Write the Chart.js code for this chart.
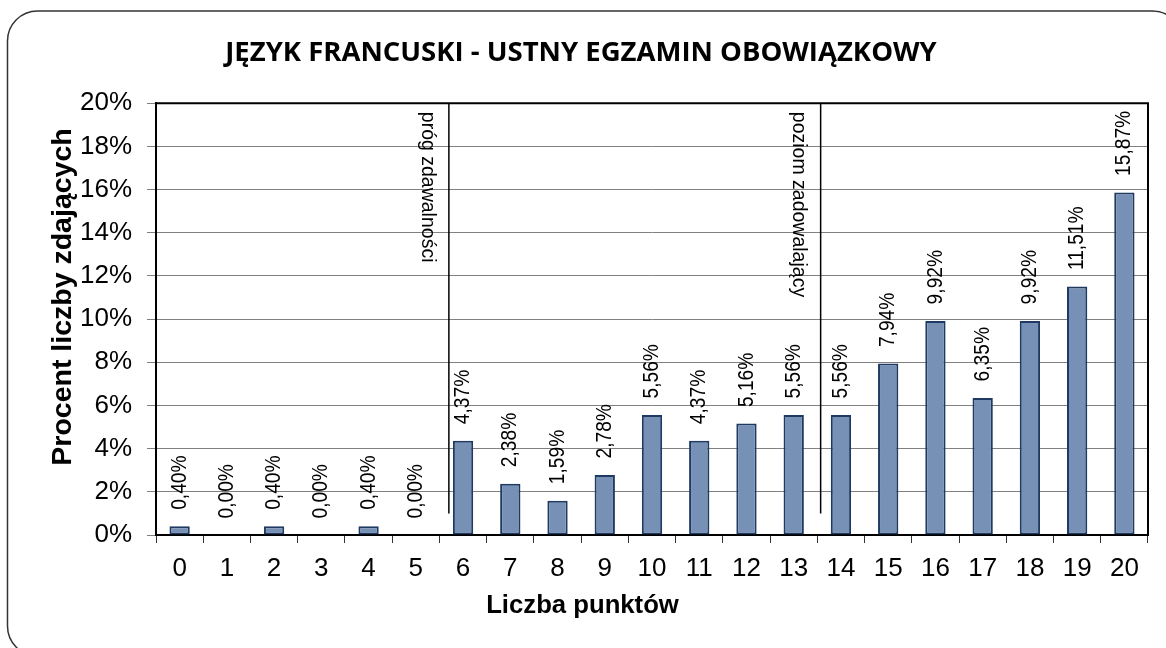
<!DOCTYPE html>
<html>
<head>
<meta charset="utf-8">
<script src="https://cdn.jsdelivr.net/npm/chart.js@4/dist/chart.umd.min.js"></script>
<style>
  html, body { margin: 0; padding: 0; background: #fff; }
  #box { width: 1166px; height: 648px; }
</style>
</head>
<body>
<div id="box"><canvas id="chart"></canvas></div>
<script>
// points 0..20 and percent of candidates
const points = ['0','1','2','3','4','5','6','7','8','9','10','11','12','13','14','15','16','17','18','19','20'];
const percents = [0.40, 0.00, 0.40, 0.00, 0.40, 0.00, 4.37, 2.38, 1.59, 2.78, 5.56, 4.37, 5.16, 5.56, 5.56, 7.94, 9.92, 6.35, 9.92, 11.51, 15.87];

// threshold markers (position on the category axis, label)
const markerPos = [5.7, 13.57];
const markerText = ['próg zdawalności', 'poziom zadowalający'];
const markerFrom = 1; // lines stop at 1%

const titleText = 'JĘZYK FRANCUSKI - USTNY EGZAMIN OBOWIĄZKOWY';
const xTitle = 'Liczba punktów';
const yTitle = 'Procent liczby zdających';

const fam = '"Liberation Sans", Arial, sans-serif';

const fmt = v => v.toFixed(2).replace('.', ',') + '%';

const extras = {
  id: 'extras',
  beforeDraw(chart) {
    const ctx = chart.ctx;
    ctx.save();
    ctx.fillStyle = '#fff';
    ctx.fillRect(0, 0, chart.width, chart.height);
    ctx.strokeStyle = '#333';
    ctx.lineWidth = 1.5;
    ctx.beginPath();
    ctx.roundRect(7.5, 11, 1175, 645, 30);
    ctx.stroke();

    // titles
    ctx.fillStyle = '#000';
    ctx.textAlign = 'center';
    ctx.textBaseline = 'alphabetic';
    ctx.font = 'bold 27.5px "Open Sans", sans-serif';
    ctx.fillText(titleText, 581, 61);

    ctx.textBaseline = 'middle';
    ctx.font = 'bold 25.7px ' + fam;
    ctx.fillText(xTitle, 582.5, 606);

    ctx.save();
    ctx.translate(63, 297);
    ctx.rotate(-Math.PI / 2);
    ctx.font = 'bold 28.5px ' + fam;
    ctx.fillText(yTitle, 0, 0);
    ctx.restore();
    ctx.restore();
  },
  afterDatasetsDraw(chart) {
    const ctx = chart.ctx;
    const area = chart.chartArea;
    const xs = chart.scales.x, ys = chart.scales.y;
    ctx.save();
    // top + right frame of plot
    ctx.strokeStyle = '#000';
    ctx.lineWidth = 2;
    ctx.beginPath();
    ctx.moveTo(area.left, area.top);
    ctx.lineTo(area.right, area.top);
    ctx.lineTo(area.right, area.bottom);
    ctx.stroke();

    // value labels (a bit wider glyphs, like the original)
    ctx.fillStyle = '#000';
    ctx.font = '19.2px ' + fam;
    ctx.textAlign = 'left';
    ctx.textBaseline = 'middle';
    chart.getDatasetMeta(0).data.forEach((bar, i) => {
      ctx.save();
      ctx.translate(bar.x, bar.y - 16.5);
      ctx.rotate(-Math.PI / 2);
      ctx.scale(1, 1.15);
      ctx.fillText(fmt(percents[i]), 0, 0);
      ctx.restore();
    });

    // threshold lines
    ctx.font = '19.5px ' + fam;
    markerPos.forEach((p, i) => {
      const x = xs.getPixelForValue(p);
      ctx.strokeStyle = '#000';
      ctx.lineWidth = 1.5;
      ctx.beginPath();
      ctx.moveTo(x, area.top);
      ctx.lineTo(x, ys.getPixelForValue(markerFrom));
      ctx.stroke();
      ctx.save();
      ctx.translate(x - 22, area.top + 8.5);
      ctx.rotate(Math.PI / 2);
      ctx.fillText(markerText[i], 0, 0);
      ctx.restore();
    });
    ctx.restore();
  }
};

new Chart(document.getElementById('chart'), {
  type: 'bar',
  data: {
    labels: points,
    datasets: [{
      data: percents,
      backgroundColor: '#7690b6',
      borderColor: '#1f3a62',
      borderWidth: 2,
      borderSkipped: false,
      barPercentage: 0.43,
      categoryPercentage: 1
    }]
  },
  options: {
    responsive: true,
    maintainAspectRatio: false,
    animation: false,
    layout: { padding: { left: 0, right: 18, top: 103.3, bottom: 0 } },
    plugins: {
      legend: { display: false },
      tooltip: { enabled: false },
      title: { display: false }
    },
    scales: {
      x: {
        afterFit: s => { s.height = 113; },
        grid: { drawOnChartArea: false, tickLength: 8, color: '#333', offset: true },
        border: { color: '#000', width: 2 },
        ticks: { color: '#000', font: { family: fam, size: 26 }, padding: 10, maxRotation: 0 }
      },
      y: {
        min: 0,
        max: 20,
        afterFit: s => { s.width = 156; },
        grid: { color: '#808080', tickLength: 9 },
        border: { color: '#000', width: 2 },
        ticks: { stepSize: 2, color: '#000', font: { family: fam, size: 26 }, padding: 15, callback: v => v + '%' }
      }
    }
  },
  plugins: [extras]
});
</script>
</body>
</html>
